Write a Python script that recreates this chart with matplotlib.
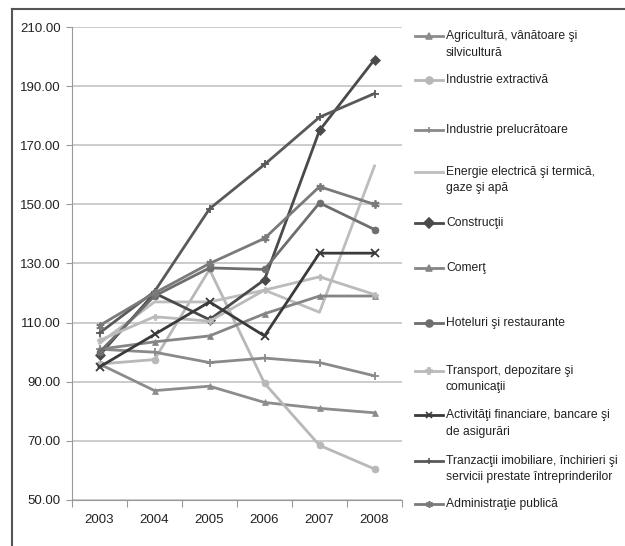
import matplotlib
matplotlib.use("Agg")
import matplotlib.pyplot as plt
from matplotlib.lines import Line2D

plt.rcParams['font.family'] = ['Liberation Sans Narrow', 'Liberation Sans', 'DejaVu Sans']

# Date (indici, 2003-2008)
ani = ['2003', '2004', '2005', '2006', '2007', '2008']

agricultura = [96, 87, 88.5, 83, 81, 79.5]
extractiva = [96, 97.5, 128, 89.5, 68.5, 60.5]
prelucratoare = [101, 100, 96.5, 98, 96.5, 92]
energie = [103, 117, 117, 121, 113.5, 163]
constructii = [99, 120, 111, 124.5, 175, 199]
comert = [101, 103.5, 105.5, 113, 119, 119]
hoteluri = [100, 119, 128.5, 128, 150.5, 141.5]
transport = [104, 112, 110.5, 121, 125.5, 119.5]
financiare = [95, 106, 117, 105.5, 133.5, 133.5]
imobiliare = [106.5, 120.5, 148.5, 163.5, 179.5, 187.5]
administratie = [109, 120, 130, 138.5, 156, 150]

serii = [
    ("Agricultură, vânătoare şi\nsilvicultură", agricultura, '#8c8c8c', '^'),
    ("Industrie extractivă", extractiva, '#b8b8b8', 'o'),
    ("Industrie prelucrătoare", prelucratoare, '#8a8a8a', '+'),
    ("Energie electrică şi termică,\ngaze şi apă", energie, '#bdbdbd', None),
    ("Construcţii", constructii, '#4a4a4a', 'D'),
    ("Comerţ", comert, '#858585', '^'),
    ("Hoteluri şi restaurante", hoteluri, '#6e6e6e', 'o'),
    ("Transport, depozitare şi\ncomunicaţii", transport, '#bababa', 'P'),
    ("Activităţi financiare, bancare şi\nde asigurări", financiare, '#3a3a3a', 'x'),
    ("Tranzacţii imobiliare, închirieri şi\nservicii prestate întreprinderilor", imobiliare, '#595959', '+'),
    ("Administraţie publică", administratie, '#7a7a7a', (6, 2, 0)),
]

# pozitii legenda (pixeli de sus)
leg_y = [44.5, 80, 130, 180, 223, 268, 323, 379, 423.5, 469, 504]

W, H = 625, 546
fig = plt.figure(figsize=(W / 100, H / 100), dpi=100)
ax = fig.add_axes([72 / W, 1 - 500 / H, 330 / W, 473 / H])

linii = ('+', 'x', (6, 2, 0))
x = list(range(len(ani)))
for nume, val, col, mk in serii:
    ax.plot(x, val, color=col, lw=2, marker=mk, markersize=6 if mk in linii else 5,
            markeredgewidth=1.3 if mk in linii else 0.5, markeredgecolor=col)

ax.set_xlim(-0.5, 5.5)
ax.set_ylim(50, 210)
ax.set_yticks(range(50, 211, 20))
ax.set_yticklabels(['%.2f' % v for v in range(50, 211, 20)], fontsize=9.5, color='#222222')
ax.set_xticks([i + 0.5 for i in range(-1, 6)])
ax.set_xticklabels([])
ax.set_xticks(x, minor=True)
ax.set_xticklabels(ani, minor=True, fontsize=9.5, color='#222222')
ax.tick_params(axis='x', which='major', length=5, color='#999999', direction='out')
ax.tick_params(axis='x', which='minor', length=0, pad=10)
ax.tick_params(axis='y', length=4, color='#999999', pad=4)
ax.grid(axis='y', color='#c4c4c4', lw=1.2)
ax.set_axisbelow(True)
for s in ['top', 'right']:
    ax.spines[s].set_visible(False)
for s in ['left', 'bottom']:
    ax.spines[s].set_color('#999999')

# legenda manuala
for (nume, val, col, mk), yp in zip(serii, leg_y):
    yf = 1 - yp / H
    nl = nume.count('\n')
    yl = yf + nl * 8.5 / H
    fig.add_artist(Line2D([415 / W, 443 / W], [yl, yl], color=col, lw=2,
                          transform=fig.transFigure))
    if mk is not None:
        fig.add_artist(Line2D([429 / W], [yl], color=col, marker=mk, markersize=5,
                              markeredgecolor=col, markeredgewidth=1.2, transform=fig.transFigure))
    fig.text(446 / W, yf, nume, fontsize=8.7, va='center', ha='left', color='#222222', linespacing=1.5)

# chenar
fig.add_artist(Line2D([12 / W, 12 / W], [0, 1 - 9 / H], color='#555555', lw=1.5, transform=fig.transFigure))
fig.add_artist(Line2D([12 / W, 1], [1 - 9 / H, 1 - 9 / H], color='#555555', lw=1.5, transform=fig.transFigure))

fig.savefig('out.png', dpi=100, facecolor='white')
